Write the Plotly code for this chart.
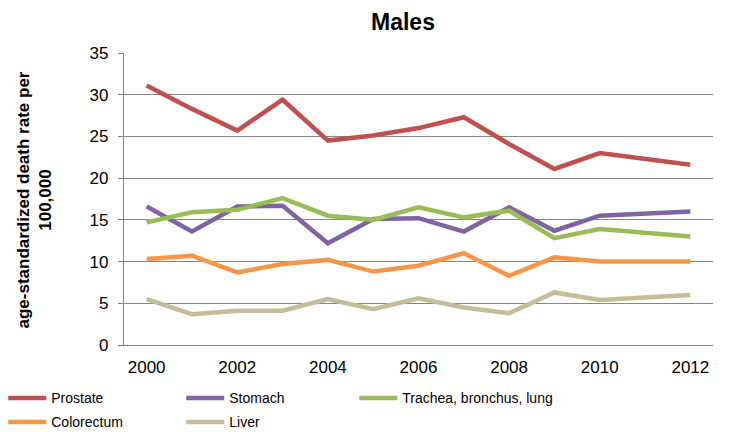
import plotly.graph_objects as go

years = list(range(2000, 2013))
prostate = [31.1, 28.3, 25.7, 29.4, 24.5, 25.1, 26.0, 27.3, 24.1, 21.1, 23.0, 22.3, 21.6]
stomach = [16.6, 13.6, 16.6, 16.7, 12.2, 15.1, 15.2, 13.6, 16.5, 13.7, 15.5, 15.8, 16.0]
trachea = [14.7, 15.9, 16.2, 17.6, 15.5, 15.0, 16.5, 15.3, 16.1, 12.8, 13.9, 13.5, 13.0]
colorectum = [10.3, 10.7, 8.7, 9.7, 10.2, 8.8, 9.5, 11.0, 8.3, 10.5, 10.0, 10.0, 10.0]
liver = [5.5, 3.7, 4.1, 4.1, 5.5, 4.3, 5.6, 4.5, 3.8, 6.3, 5.4, 5.7, 6.0]

series = [
    ("Prostate", prostate, "#C0504D", "legend"),
    ("Stomach", stomach, "#8064A2", "legend"),
    ("Trachea, bronchus, lung", trachea, "#9BBB59", "legend3"),
    ("Colorectum", colorectum, "#F79646", "legend2"),
    ("Liver", liver, "#C4BD97", "legend2"),
]

fig = go.Figure()
for name, vals, col, lg in series:
    fig.add_trace(go.Scatter(x=years, y=vals, name=name, mode="lines", legend=lg,
                             line=dict(color=col, width=4.5)))

font = "Liberation Sans, Arial, sans-serif"
legend_common = dict(orientation="h", xanchor="left", yanchor="top",
                     entrywidth=125, entrywidthmode="pixels", itemwidth=38,
                     font=dict(size=14, family=font), tracegroupgap=0,
                     bgcolor="rgba(0,0,0,0)")
row1 = -0.128
row2 = row1 - 24 / 292
fig.update_layout(
    width=749, height=432,
    margin=dict(l=124, r=36, t=53, b=87, autoexpand=False),
    paper_bgcolor="white", plot_bgcolor="white",
    font=dict(family=font, color="black"),
    title=dict(text="<b>Males</b>", x=(403 - 124) / 589, xref="paper", xanchor="center",
               y=0.95, yref="container", yanchor="middle",
               font=dict(size=23, family=font, color="black")),
    showlegend=True,
    legend=dict(x=-0.205, y=row1, **legend_common),
    legend2=dict(x=-0.205, y=row2, **legend_common),
    legend3=dict(x=-0.205 + 351 / 589, y=row1,
                 **{k: v for k, v in legend_common.items() if k != "entrywidth"}),
)
fig.update_xaxes(range=[1999.5, 2012.5], tickvals=list(range(2000, 2013, 2)),
                 showgrid=False, showline=True, linecolor="#868686", linewidth=1.3,
                 ticks="", tickfont=dict(size=17), zeroline=False, ticklabelstandoff=6)
fig.update_yaxes(range=[0, 35], dtick=5, showgrid=True, gridcolor="#868686", gridwidth=1.3,
                 showline=True, linecolor="#868686", linewidth=1.3,
                 ticks="outside", ticklen=5, tickcolor="#868686", tickwidth=1.3,
                 tickfont=dict(size=17), zeroline=False, ticklabelstandoff=6)

fig.add_annotation(text="<b>age-standardized death rate per<br>100,000</b>", textangle=-90,
                   xref="paper", yref="paper", x=(33.5 - 124) / 589, xanchor="center",
                   y=(345 - 200) / 292, yanchor="middle", align="center",
                   showarrow=False, font=dict(size=17, family=font))

fig.write_html("out.html", config={"displayModeBar": False},
               post_script="document.body.style.margin='0';")
